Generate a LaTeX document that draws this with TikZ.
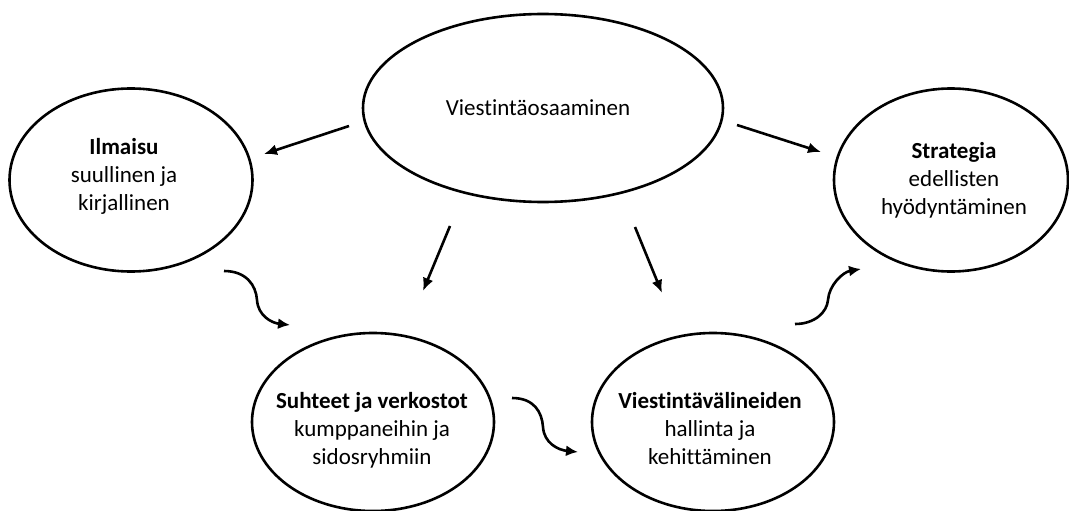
\documentclass[tikz,border=0pt]{standalone}
\usepackage{fontspec}
\setmainfont{Carlito}[Ligatures=NoCommon]
\usetikzlibrary{shapes.geometric,arrows.meta}
\begin{document}
\begin{tikzpicture}[x=1pt,y=-1pt,
  bubble/.style={draw=black,line width=2.6pt,ellipse,inner sep=0pt},
  txt/.style={inner sep=0pt,align=center,font=\fontsize{23}{28}\selectfont},
  arr/.style={line width=2.6pt,-{Latex[length=13pt,width=11pt]}},
  wavy/.style={line width=2.6pt,-{Latex[length=12pt,width=11pt]}}]
\useasboundingbox (0,0) rectangle (1069,511);
\node[bubble,minimum width=360pt,minimum height=188pt] (top) at (543,108) {};
\node[bubble,minimum width=243pt,minimum height=183pt] (ilm) at (131,180) {};
\node[bubble,minimum width=234pt,minimum height=183pt] (str) at (951,180) {};
\node[bubble,minimum width=242pt,minimum height=178pt] (suh) at (373,422) {};
\node[bubble,minimum width=242pt,minimum height=178pt] (vie) at (713,422) {};
\node[txt] (topt) at (538,108) {Viestintäosaaminen};
\node[txt] (ilmt) at (124,176) {\textbf{Ilmaisu}\\suullinen ja\\kirjallinen};
\node[txt] (strt) at (954,180) {\textbf{Strategia}\\edellisten\\hyödyntäminen};
\node[txt] (suht) at (372,430) {\textbf{Suhteet ja verkostot}\\kumppaneihin ja\\sidosryhmiin};
\node[txt] (viet) at (710,429) {\textbf{Viestintävälineiden}\\hallinta ja\\kehittäminen};
% arrow end points
\coordinate (a1s) at (349,126); \coordinate (a1e) at (264,154);
\coordinate (a2s) at (737,125); \coordinate (a2e) at (821,152);
\coordinate (a3s) at (450,226); \coordinate (a3e) at (423,291);
\coordinate (a4s) at (635,227); \coordinate (a4e) at (662,293);
\draw[arr] (a1s) -- (a1e);
\draw[arr] (a2s) -- (a2e);
\draw[arr] (a3s) -- (a3e);
\draw[arr] (a4s) -- (a4e);
% wavy arrows
\coordinate (w1s) at (224,271); \coordinate (w1m) at (257,300); \coordinate (w1e) at (290,325);
\coordinate (w2s) at (512,398); \coordinate (w2m) at (543,427); \coordinate (w2e) at (578,452);
\coordinate (w3s) at (795,324); \coordinate (w3m) at (828,300); \coordinate (w3e) at (861,269);
\draw[wavy] (w1s) .. controls (246,271) and (256,285) .. (w1m) .. controls (258,316) and (272,323) .. (w1e);
\draw[wavy] (w2s) .. controls (534,398) and (542,412) .. (w2m) .. controls (544,443) and (558,450) .. (w2e);
\draw[wavy] (w3s) .. controls (815,324) and (827,312) .. (w3m) .. controls (829,285) and (843,272) .. (w3e);
\end{tikzpicture}
\end{document}
